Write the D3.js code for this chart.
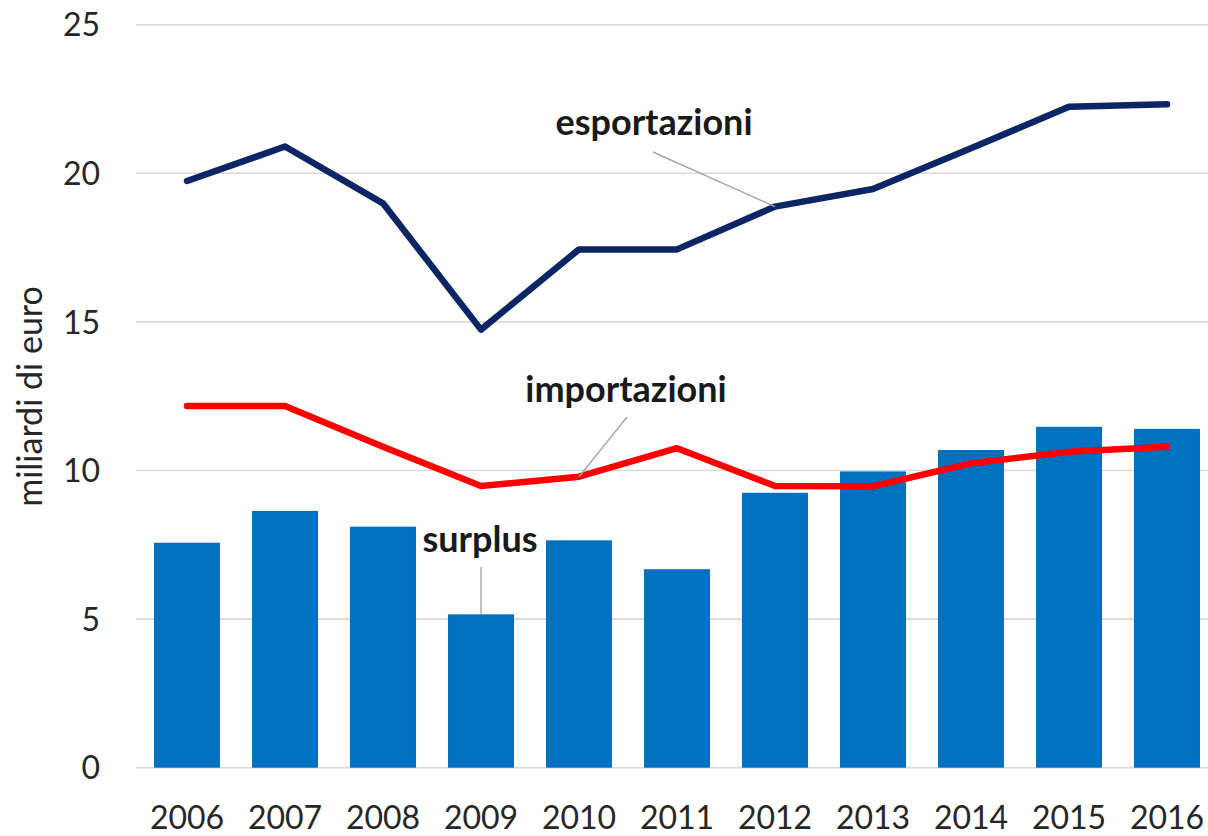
<!DOCTYPE html>
<html>
<head>
<meta charset="utf-8">
<script src="https://cdn.jsdelivr.net/npm/d3@7"></script>
<style>
  html, body { margin: 0; padding: 0; background: #fff; }
  svg { display: block; }
</style>
</head>
<body>
<svg id="chart" width="1208" height="836"></svg>
<script>
const years = ["2006","2007","2008","2009","2010","2011","2012","2013","2014","2015","2016"];
const surplus = [7.57, 8.64, 8.11, 5.16, 7.65, 6.68, 9.25, 9.97, 10.69, 11.47, 11.40];
const esportazioni = [19.74, 20.90, 18.99, 14.74, 17.44, 17.44, 18.88, 19.47, 20.84, 22.24, 22.32];
const importazioni = [12.17, 12.17, 10.80, 9.48, 9.79, 10.75, 9.48, 9.47, 10.24, 10.63, 10.80];
const yTicks = [0, 5, 10, 15, 20, 25];
const yTitle = "miliardi di euro";

const svg = d3.select("#chart");
const W = 1208, H = 836;

const x = d3.scaleBand().domain(years).range([138, 1216]).paddingInner(0.327).paddingOuter(0.1635);
const y = d3.scaleLinear().domain([0, 25]).range([767.7, 24.7]);

const fontTick = "Lato, 'Open Sans', sans-serif";

// gridlines
svg.append("g").selectAll("line").data(yTicks).join("line")
  .attr("x1", 136).attr("x2", W)
  .attr("y1", d => y(d)).attr("y2", d => y(d))
  .attr("stroke", "#d9d9d9").attr("stroke-width", 1.6);

// y axis labels
const yAxis = d3.axisLeft(y).tickValues(yTicks).tickSize(0).tickPadding(0);
const gy = svg.append("g").attr("transform", "translate(100,0)").call(yAxis);
gy.select(".domain").remove();
gy.selectAll("text")
  .attr("font-family", fontTick).attr("font-size", 32).attr("fill", "#262626")
  .attr("dy", "0.35em");

// x axis labels
const xAxis = d3.axisBottom(x).tickSize(0).tickPadding(0);
const gx = svg.append("g").attr("transform", "translate(0,829)").call(xAxis);
gx.select(".domain").remove();
gx.selectAll("text")
  .attr("font-family", fontTick).attr("font-size", 32).attr("fill", "#262626")
  .attr("dy", "0em");

// y title
svg.append("text")
  .attr("transform", `translate(42,${(278 + 515) / 2}) rotate(-90)`)
  .attr("text-anchor", "middle")
  .attr("font-family", fontTick).attr("font-size", 34).attr("fill", "#262626")
  .text(yTitle);

// bars
svg.append("g").selectAll("rect").data(years).join("rect")
  .attr("x", d => x(d))
  .attr("width", x.bandwidth())
  .attr("y", (d, i) => y(surplus[i]))
  .attr("height", (d, i) => y(0) - y(surplus[i]))
  .attr("fill", "#0070c0");

const cx = d => x(d) + x.bandwidth() / 2;

// leader lines
const leader = (x1, y1, x2, y2) => svg.append("line")
  .attr("x1", x1).attr("y1", y1).attr("x2", x2).attr("y2", y2)
  .attr("stroke", "#a6a6a6").attr("stroke-width", 1.4);

// lines
const lineGen = arr => d3.line().x(d => cx(d)).y((d, i) => y(arr[i]));

svg.append("path")
  .attr("d", lineGen(importazioni)(years))
  .attr("fill", "none").attr("stroke", "#ff0000").attr("stroke-width", 6.5)
  .attr("stroke-linejoin", "round").attr("stroke-linecap", "round");

svg.append("path")
  .attr("d", lineGen(esportazioni)(years))
  .attr("fill", "none").attr("stroke", "#0b2565").attr("stroke-width", 6.5)
  .attr("stroke-linejoin", "round").attr("stroke-linecap", "round");

// annotations
const i2012 = years.indexOf("2012"), i2010 = years.indexOf("2010"), i2009 = years.indexOf("2009");
leader(653, 152, cx("2012"), y(esportazioni[i2012]));
leader(627, 417, cx("2010"), y(importazioni[i2010]));
leader(cx("2009"), 567, cx("2009"), y(surplus[i2009]));

const lbl = (tx, ty, t) => svg.append("text")
  .attr("x", tx).attr("y", ty).attr("text-anchor", "middle")
  .attr("font-family", "Lato, 'Open Sans', sans-serif").attr("font-weight", 700)
  .attr("font-size", 36).attr("fill", "#1a1a1a").text(t);

lbl(654, 135, "esportazioni");
lbl(626, 402, "importazioni");
lbl(480, 552, "surplus");
</script>
</body>
</html>
